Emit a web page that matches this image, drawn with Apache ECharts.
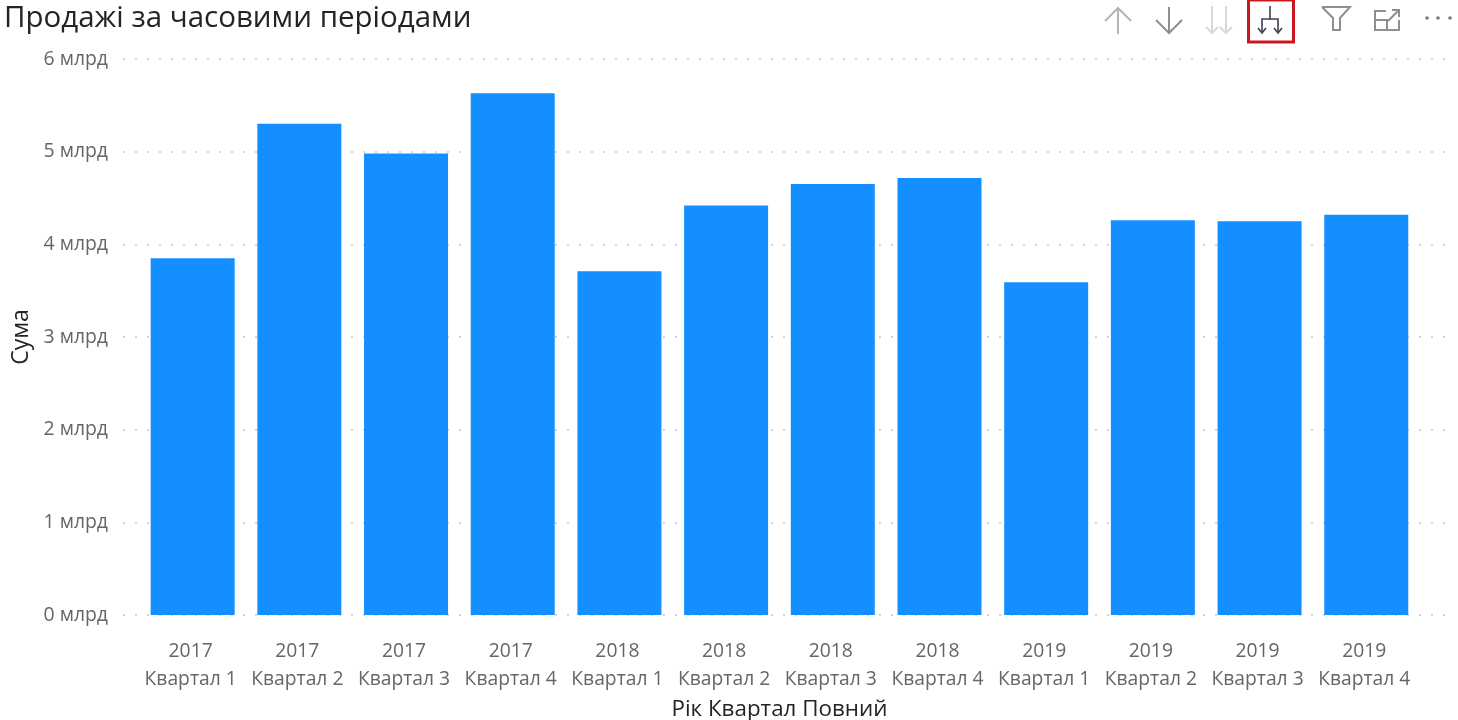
<!DOCTYPE html>
<html><head><meta charset="utf-8">
<style>html,body{margin:0;padding:0;background:#fff}#c{width:1458px;height:720px}</style>
<script src="https://cdn.jsdelivr.net/npm/echarts@6/dist/echarts.min.js"></script></head>
<body><div id="c"></div>
<script>
const years = ['2017','2017','2017','2017','2018','2018','2018','2018','2019','2019','2019','2019'];
const quarters = ['Квартал 1','Квартал 2','Квартал 3','Квартал 4','Квартал 1','Квартал 2','Квартал 3','Квартал 4','Квартал 1','Квартал 2','Квартал 3','Квартал 4'];
const values = [3.85,5.30,4.98,5.63,3.71,4.42,4.65,4.715,3.59,4.26,4.25,4.32];
const yTicks = 6;
const font = '"Open Sans","Noto Sans",sans-serif';
const categories = years.map((y,i)=>y+'\n'+quarters[i]);
const ic = '#8f8f8f';
function line(points,color,w){return {type:'polyline',shape:{points},style:{stroke:color,lineWidth:w||2,fill:null}};}
const chart = echarts.init(document.getElementById('c'),null,{renderer:'canvas'});
chart.setOption({
  animation:false,
  backgroundColor:'#fff',
  title:{text:'Продажі за часовими періодами',left:-1,top:-1,textStyle:{fontFamily:font,fontSize:29.5,fontWeight:'normal',color:'#252423'}},
  grid:[
    {left:139.3,right:38.4,top:59,bottom:105,outerBoundsMode:'none'},
    {left:123,right:10,top:59,bottom:105,outerBoundsMode:'none'}
  ],
  xAxis:[
    {type:'category',gridIndex:0,data:categories,z:3,axisLine:{show:false},axisTick:{show:false},
     axisLabel:{interval:0,margin:23,fontFamily:font,fontSize:19.3,lineHeight:28,color:'#666',padding:[0,4,0,0]},
     name:'Рік Квартал Повний',nameLocation:'middle',nameGap:78,
     nameTextStyle:{fontFamily:font,fontSize:22.4,color:'#252423'}},
    {type:'value',gridIndex:1,min:0,max:1,show:false}
  ],
  yAxis:[
    {type:'value',gridIndex:0,min:0,max:yTicks,interval:1,splitLine:{show:false},axisLine:{show:false},axisTick:{show:false},axisLabel:{show:false}},
    {type:'value',gridIndex:1,min:0,max:yTicks,interval:1,z:0,axisLine:{show:false},axisTick:{show:false},
     splitLine:{show:true,lineStyle:{type:[2,10],color:'#d4d4d4',width:2}},
     axisLabel:{margin:15,fontFamily:font,fontSize:19.4,color:'#666',formatter:v=>v+' млрд'},
     name:'Сума',nameLocation:'middle',nameGap:90,nameTextStyle:{fontFamily:font,fontSize:23,color:'#252423'}}
  ],
  series:[{type:'bar',xAxisIndex:0,yAxisIndex:0,data:values,barWidth:84,z:5,itemStyle:{color:'#148FFF'}}],
  graphic:[
    line([[1118,34],[1118,8]],'#b5b5b5'), line([[1105,21],[1118,8],[1131,21]],'#b5b5b5'),
    line([[1169,7],[1169,33]],ic), line([[1156,20],[1169,33],[1182,20]],ic),
    line([[1212,6],[1212,33]],'#dcd6dc'), line([[1206,27],[1212,33],[1218,27]],'#dcd6dc'),
    line([[1226,6],[1226,33]],'#dcd6dc'), line([[1220,27],[1226,33],[1232,27]],'#dcd6dc'),
    {type:'rect',shape:{x:1248.5,y:0,width:45,height:42},style:{fill:null,stroke:'#c8181e',lineWidth:3}},
    line([[1270,6],[1270,19],[1262,19],[1262,33]],'#3f4150',1.6), line([[1270,19],[1278,19],[1278,33]],'#3f4150',1.6),
    line([[1258,28],[1262,33],[1266,28]],'#3f4150',1.6), line([[1274,28],[1278,33],[1282,28]],'#3f4150',1.6),
    line([[1322,7],[1350,7],[1340,18],[1340,30],[1333,30],[1333,18],[1322,7]],ic),
    line([[1386,11],[1375,11],[1375,30],[1399,30],[1399,20]],ic), line([[1375,20],[1387,20],[1387,30]],ic),
    line([[1388,21],[1399,10]],ic), line([[1392,10],[1399,10],[1399,17]],ic),
    {type:'circle',shape:{cx:1427,cy:18,r:1.8},style:{fill:'#777'}},
    {type:'circle',shape:{cx:1438,cy:18,r:1.8},style:{fill:'#777'}},
    {type:'circle',shape:{cx:1450,cy:18,r:1.8},style:{fill:'#777'}}
  ]
});
</script></body></html>
